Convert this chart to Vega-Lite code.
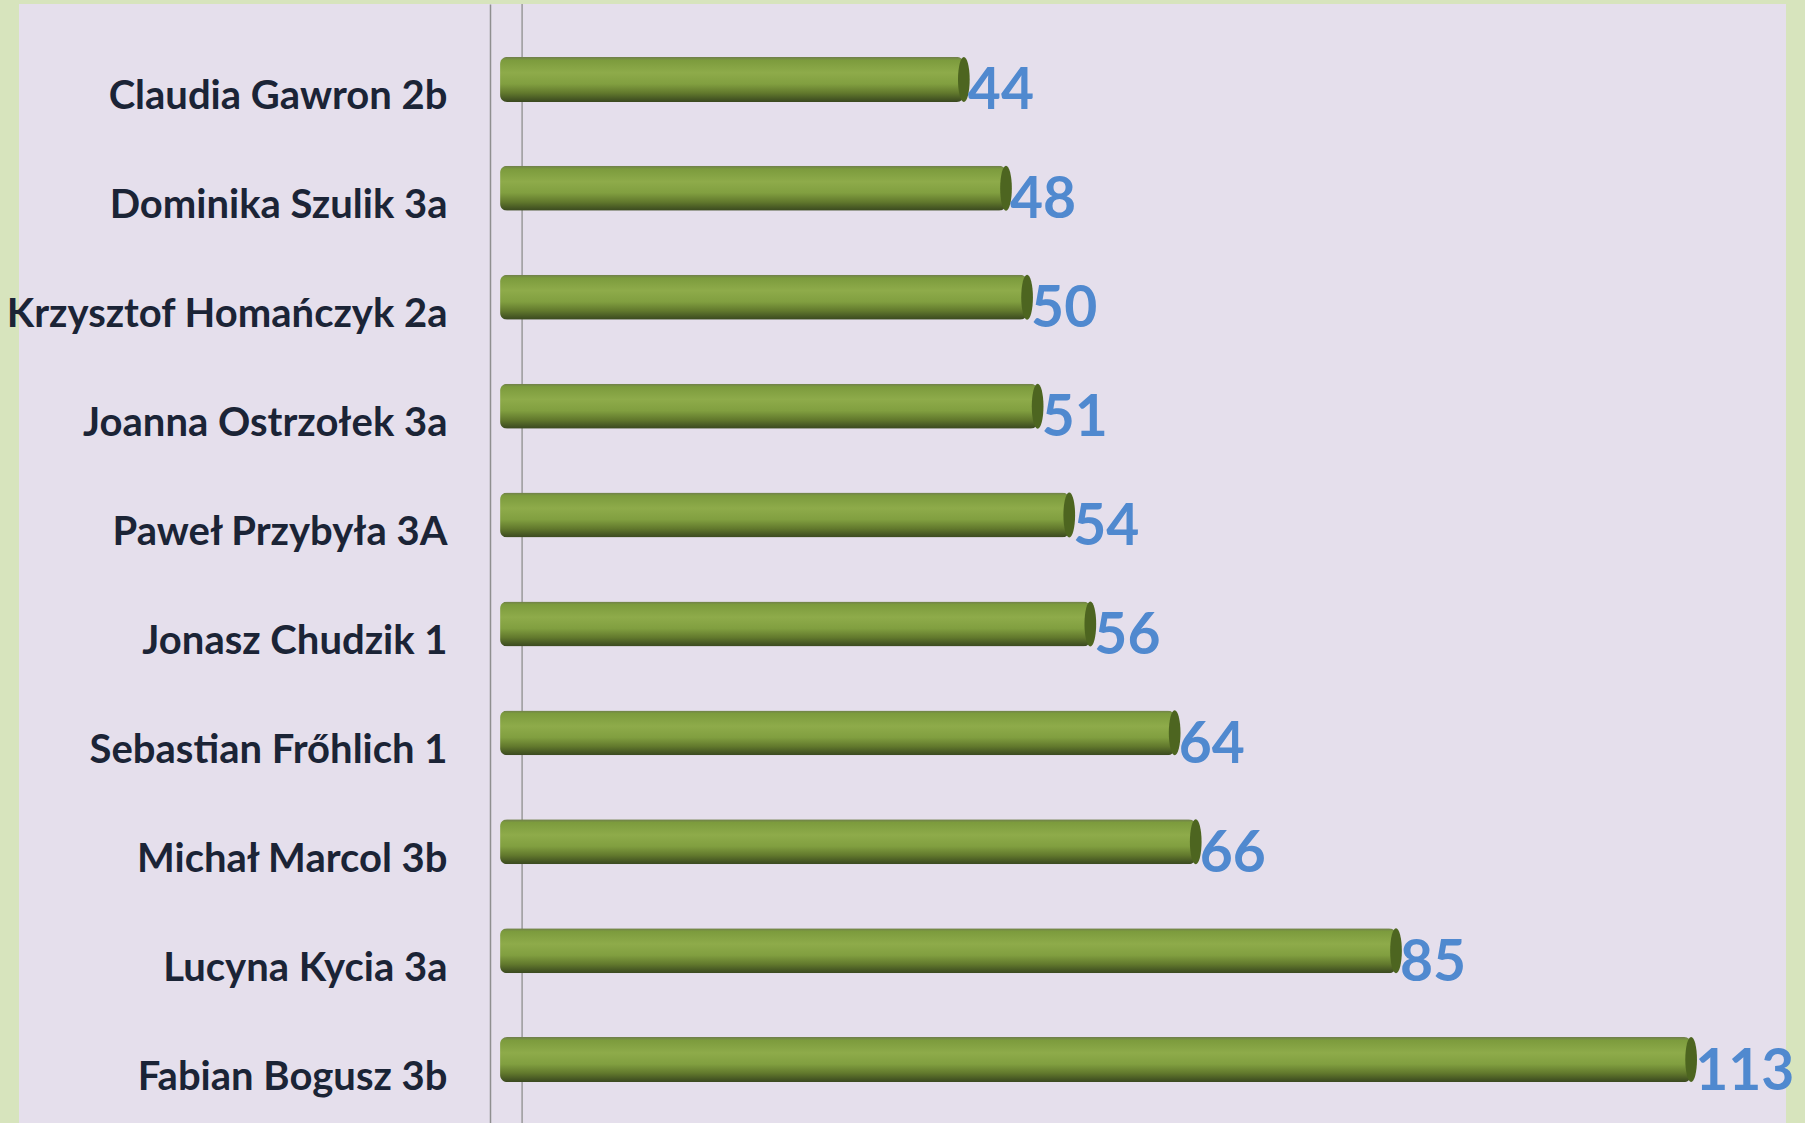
{
  "$schema": "https://vega.github.io/schema/vega-lite/v6.json",
  "width": 1767,
  "height": 1119,
  "autosize": {"type": "none"},
  "padding": {"left": 19, "top": 4, "right": 19, "bottom": 0},
  "background": "#d7e4bd",
  "config": {"view": {"fill": "#e5dfec", "stroke": null}},
  "data": {
    "values": [
      {"name": "Claudia Gawron 2b", "score": 44},
      {"name": "Dominika Szulik 3a", "score": 48},
      {"name": "Krzysztof Homańczyk 2a", "score": 50},
      {"name": "Joanna Ostrzołek 3a", "score": 51},
      {"name": "Paweł Przybyła 3A", "score": 54},
      {"name": "Jonasz Chudzik 1", "score": 56},
      {"name": "Sebastian Frőhlich 1", "score": 64},
      {"name": "Michał Marcol 3b", "score": 66},
      {"name": "Lucyna Kycia 3a", "score": 85},
      {"name": "Fabian Bogusz 3b", "score": 113}
    ]
  },
  "layer": [
    {
      "data": {"values": [{}]},
      "mark": {"type": "rule", "color": "#9a9a9a", "strokeWidth": 1.5},
      "encoding": {
        "x": {"datum": 2.09, "type": "quantitative", "scale": {"domain": [-45.64, 122.0], "nice": false, "zero": false}, "axis": null}
      }
    },
    {
      "mark": {
        "type": "bar",
        "cornerRadius": 7,
        "color": {
          "gradient": "linear",
          "x1": 0, "y1": 0, "x2": 0, "y2": 1,
          "stops": [
            {"offset": 0, "color": "#6f7d4c"},
            {"offset": 0.07, "color": "#7c9b3d"},
            {"offset": 0.35, "color": "#8eab4a"},
            {"offset": 0.6, "color": "#819f40"},
            {"offset": 0.8, "color": "#62792d"},
            {"offset": 0.94, "color": "#455623"},
            {"offset": 1, "color": "#3a4820"}
          ]
        }
      },
      "encoding": {
        "y": {
          "field": "name", "type": "nominal", "sort": null,
          "scale": {"paddingInner": 0.587, "paddingOuter": 0.431, "align": 0.564},
          "axis": {
            "title": null,
            "offset": -471,
            "ticks": false,
            "labelPadding": 43,
            "labelFont": "Lato",
            "labelFontSize": 40,
            "labelFontWeight": "bold",
            "labelColor": "#1b2436",
            "labelOffset": 18,
            "labelLimit": 0,
            "domainColor": "#8f8f8f",
            "domainWidth": 1.5
          }
        },
        "x": {"field": "score", "type": "quantitative", "scale": {"domain": [-45.64, 122.0], "nice": false, "zero": false}, "axis": null}
      }
    },
    {
      "mark": {
        "type": "point",
        "filled": true,
        "opacity": 1,
        "size": 2025,
        "color": "#4d6520",
        "shape": "M 0 -1 A 0.26 1 0 1 1 0 1 A 0.26 1 0 1 1 0 -1 Z"
      },
      "encoding": {
        "y": {"field": "name", "type": "nominal", "sort": null},
        "x": {"field": "score", "type": "quantitative"}
      }
    },
    {
      "mark": {
        "type": "text",
        "align": "left",
        "baseline": "alphabetic",
        "dx": 4,
        "dy": 30,
        "font": "Lato",
        "fontSize": 57,
        "fontWeight": "bold",
        "color": "#5089cf"
      },
      "encoding": {
        "y": {"field": "name", "type": "nominal", "sort": null},
        "x": {"field": "score", "type": "quantitative"},
        "text": {"field": "score", "type": "quantitative"}
      }
    }
  ]
}
